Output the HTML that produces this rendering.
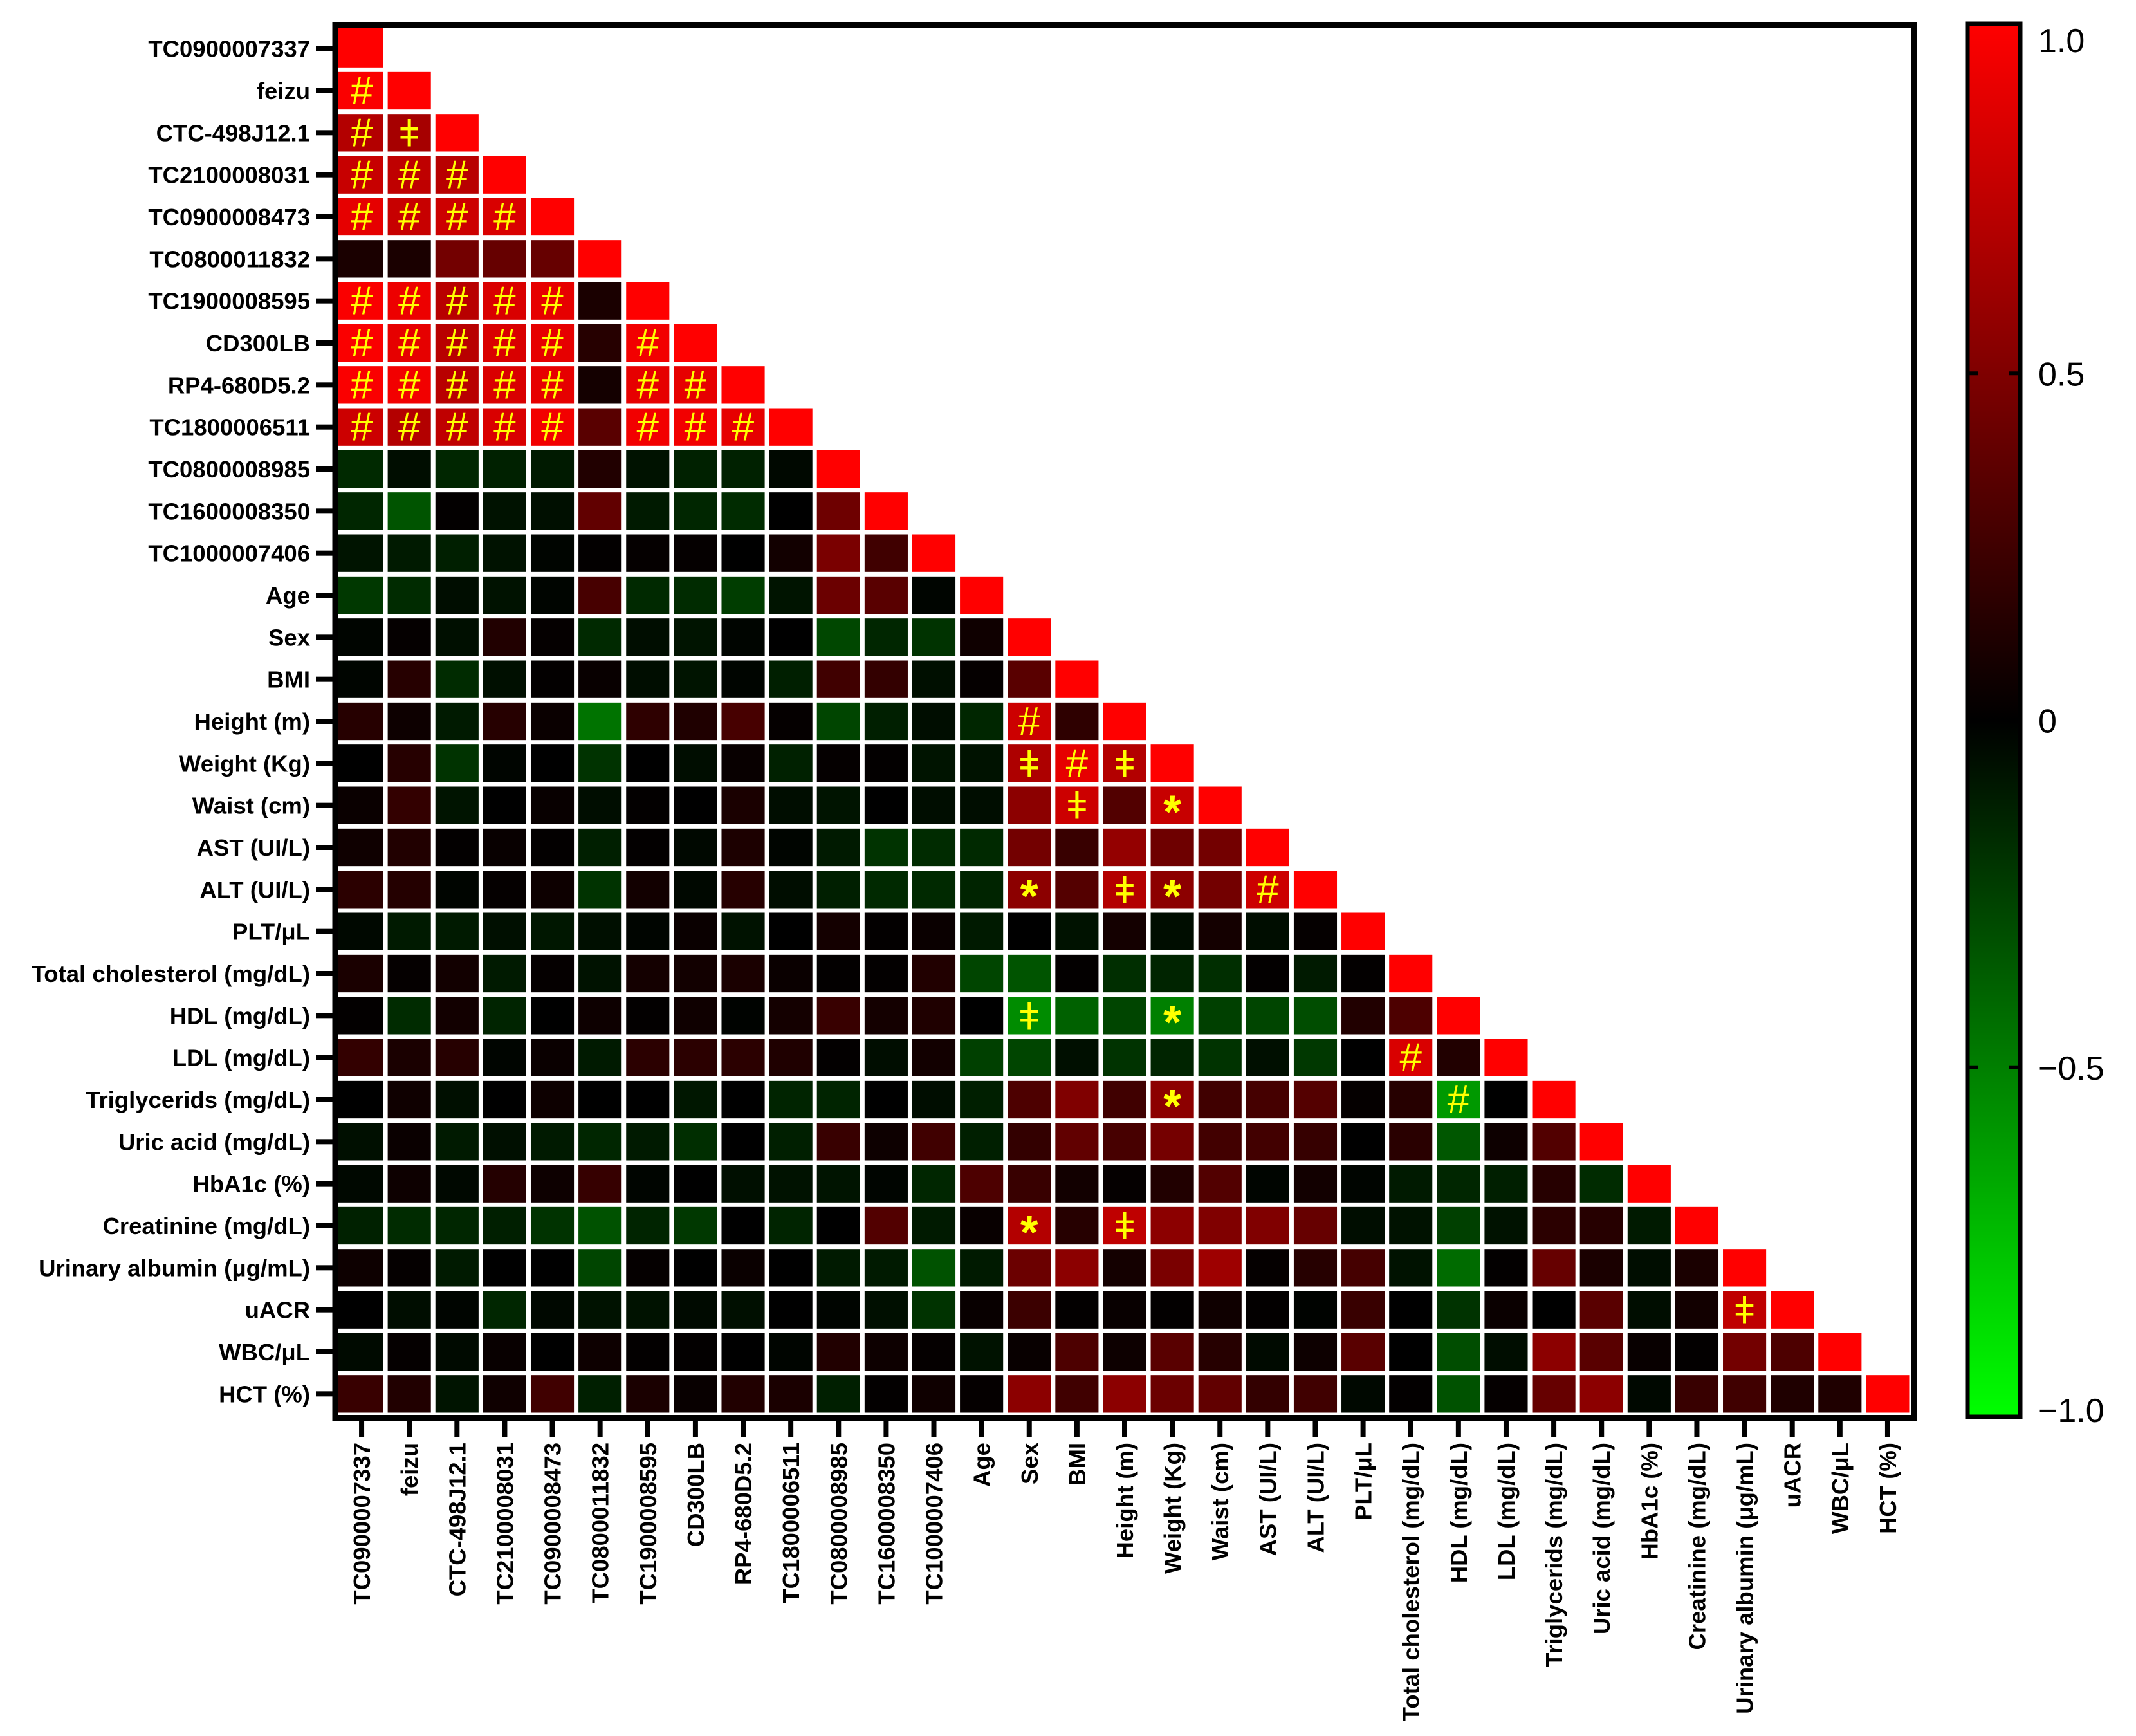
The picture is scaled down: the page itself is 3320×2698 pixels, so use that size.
<!DOCTYPE html>
<html><head><meta charset="utf-8"><style>
html,body{margin:0;padding:0;background:#fff}
svg{display:block}
text{font-family:"Liberation Sans",sans-serif}
</style></head><body>
<svg id="chart" xmlns="http://www.w3.org/2000/svg" width="3320" height="2698" viewBox="0 0 3320 2698">
<rect width="3320" height="2698" fill="#fff"/>
<g id="cells"></g>
<g id="marks"></g>
<rect x="521" y="38.5" width="2454.5" height="2165" fill="none" stroke="#000" stroke-width="9"/>
<g id="yaxis"></g>
<g id="xaxis"></g>
<g id="cbar">
<defs><linearGradient id="cg" x1="0" y1="0" x2="0" y2="1">
<stop offset="0" stop-color="#ff0000"/><stop offset="0.5" stop-color="#000000"/><stop offset="1" stop-color="#00ff00"/></linearGradient></defs>
<rect x="3058" y="37" width="82" height="2165" fill="url(#cg)" stroke="#000" stroke-width="7"/>
</g>
</svg>
<script>
const labels = ["TC0900007337","feizu","CTC-498J12.1","TC2100008031","TC0900008473","TC0800011832","TC1900008595","CD300LB","RP4-680D5.2","TC1800006511","TC0800008985","TC1600008350","TC1000007406","Age","Sex","BMI","Height (m)","Weight (Kg)","Waist (cm)","AST (UI/L)","ALT (UI/L)","PLT/μL","Total cholesterol (mg/dL)","HDL (mg/dL)","LDL (mg/dL)","Triglycerids (mg/dL)","Uric acid (mg/dL)","HbA1c (%)","Creatinine (mg/dL)","Urinary albumin (μg/mL)","uACR","WBC/μL","HCT (%)"];
const r0=[1];
const r1=[0.98,1];
const r2=[0.7,0.65,1];
const r3=[0.78,0.75,0.72,1];
const r4=[0.9,0.78,0.8,0.85,1];
const r5=[0.1,0.1,0.45,0.4,0.4,1];
const r6=[0.98,0.93,0.72,0.85,0.9,0.1,1];
const r7=[0.98,0.9,0.72,0.85,0.9,0.15,0.95,1];
const r8=[0.98,0.95,0.72,0.85,0.9,0.08,0.9,0.9,1];
const r9=[0.8,0.7,0.75,0.85,0.95,0.35,0.95,0.95,0.9,1];
const r10=[-0.16,-0.05,-0.15,-0.13,-0.1,0.13,-0.07,-0.13,-0.13,-0.03,1];
const r11=[-0.15,-0.33,0.01,-0.07,-0.06,0.38,-0.1,-0.15,-0.17,0,0.43,1];
const r12=[-0.08,-0.1,-0.12,-0.07,-0.02,0.01,0.02,0.02,0,0.07,0.48,0.25,1];
const r13=[-0.22,-0.17,-0.05,-0.07,-0.02,0.28,-0.16,-0.17,-0.24,-0.08,0.42,0.35,-0.02,1];
const r14=[-0.02,0.02,-0.06,0.13,0.02,-0.16,-0.05,-0.08,-0.02,0,-0.28,-0.15,-0.2,0.06,1];
const r15=[-0.02,0.15,-0.17,-0.06,0.01,0.03,-0.05,-0.08,-0.02,-0.12,0.25,0.2,-0.06,0.02,0.35,1];
const r16=[0.15,0.05,-0.1,0.15,0.04,-0.45,0.18,0.12,0.28,0.02,-0.27,-0.12,-0.05,-0.15,0.8,0.18,1];
const r17=[0,0.15,-0.2,-0.02,0,-0.2,0,-0.05,0.03,-0.13,0.02,0.01,-0.08,-0.07,0.68,0.9,0.7,1];
const r18=[0.04,0.2,-0.08,0,0.03,-0.05,0.01,0,0.1,-0.05,-0.08,0,-0.05,-0.05,0.55,0.8,0.32,0.78,1];
const r19=[0.06,0.13,0.01,0.03,0.01,-0.12,0.01,-0.03,0.11,-0.02,-0.1,-0.2,-0.17,-0.16,0.45,0.22,0.58,0.43,0.45,1];
const r20=[0.17,0.14,-0.02,0.02,0.05,-0.2,0.07,-0.03,0.15,-0.05,-0.12,-0.16,-0.16,-0.14,0.55,0.33,0.7,0.55,0.45,0.8,1];
const r21=[-0.03,-0.1,-0.1,-0.06,-0.09,-0.06,-0.02,0.04,-0.07,0,0.08,0.01,0.04,-0.1,0,-0.07,0.08,-0.05,0.08,-0.05,0.02,1];
const r22=[0.1,0.02,0.07,-0.1,0.02,-0.07,0.08,0.07,0.1,0.04,0.01,0.01,0.13,-0.27,-0.33,0.01,-0.18,-0.14,-0.18,0.01,-0.1,0.01,1];
const r23=[0.01,-0.17,0.07,-0.14,0,0.05,0.01,0.06,-0.01,0.08,0.22,0.08,0.12,0,-0.55,-0.38,-0.27,-0.5,-0.25,-0.27,-0.3,0.13,0.3,1];
const r24=[0.2,0.1,0.15,-0.02,0.04,-0.1,0.17,0.17,0.17,0.12,0.01,-0.05,0.07,-0.25,-0.27,-0.06,-0.2,-0.14,-0.2,-0.06,-0.22,0,0.85,0.13,1];
const r25=[0,0.06,-0.06,0,0.05,0,0,-0.09,0,-0.14,-0.14,0,-0.05,-0.12,0.3,0.5,0.25,0.55,0.25,0.27,0.33,0.02,0.15,-0.6,0,1];
const r26=[-0.06,0.04,-0.1,-0.06,-0.1,-0.15,-0.1,-0.18,0,-0.12,0.22,0.05,0.25,-0.12,0.2,0.38,0.28,0.46,0.26,0.26,0.21,0,0.16,-0.34,0.05,0.32,1];
const r27=[-0.03,0.05,-0.03,0.14,0.05,0.21,-0.02,0,-0.06,-0.07,-0.08,-0.02,-0.15,0.3,0.22,0.07,0.02,0.13,0.32,-0.02,0.07,-0.02,-0.1,-0.15,-0.12,0.15,-0.17,1];
const r28=[-0.13,-0.17,-0.15,-0.12,-0.2,-0.32,-0.14,-0.22,0,-0.14,0,0.32,-0.1,0.03,0.7,0.15,0.75,0.55,0.5,0.5,0.4,-0.05,-0.07,-0.25,-0.07,0.17,0.15,-0.1,1];
const r29=[0.05,0.02,-0.1,0,0,-0.27,0.02,0,0.04,0,-0.1,-0.1,-0.32,-0.1,0.42,0.55,0.08,0.48,0.62,0.02,0.15,0.27,-0.07,-0.42,0.01,0.4,0.1,-0.05,0.1,1];
const r30=[0,-0.05,-0.02,-0.15,-0.03,-0.07,-0.07,-0.04,-0.06,0,-0.02,-0.06,-0.2,0.03,0.23,0.01,0.03,0.01,0.06,0.01,-0.01,0.22,0,-0.2,0.04,0,0.35,-0.05,0.07,0.75,1];
const r31=[-0.04,0.02,-0.04,0.03,0,0.05,0.01,0.01,0,-0.02,0.13,0.05,0.02,-0.07,0.03,0.3,0.05,0.35,0.15,-0.04,0.05,0.35,0,-0.3,-0.05,0.55,0.35,0.03,0.01,0.45,0.3,1];
const r32=[0.22,0.13,-0.08,0.06,0.25,-0.12,0.1,0.03,0.13,0.1,-0.12,0.01,0.06,0.02,0.55,0.25,0.55,0.42,0.38,0.2,0.25,-0.03,0.01,-0.32,0.02,0.4,0.55,-0.03,0.22,0.25,0.12,0.12,1];
const rows=[r0,r1,r2,r3,r4,r5,r6,r7,r8,r9,r10,r11,r12,r13,r14,r15,r16,r17,r18,r19,r20,r21,r22,r23,r24,r25,r26,r27,r28,r29,r30,r31,r32];
const sigHash=[[1,0],[2,0],[3,0],[3,1],[3,2],[4,0],[4,1],[4,2],[4,3],[6,0],[6,1],[6,2],[6,3],[6,4],[7,0],[7,1],[7,2],[7,3],[7,4],[7,6],[8,0],[8,1],[8,2],[8,3],[8,4],[8,6],[8,7],[9,0],[9,1],[9,2],[9,3],[9,4],[9,6],[9,7],[9,8],[16,14],[17,15],[20,19],[24,22],[25,23]];
const sigDagger=[[2,1],[17,14],[17,16],[18,15],[20,16],[23,14],[28,16],[30,29]];
const sigStar=[[18,17],[20,14],[20,17],[23,17],[25,17],[28,14]];
const cbTicks=[1.0,0.5,0,-0.5,-1.0];
const cbTickLabels=["1.0","0.5","0","\u22120.5","\u22121.0"];

const NS="http://www.w3.org/2000/svg";
const X0=525,X1=2971,Y0=43,Y1=2199,N=labels.length;
const pw=(X1-X0)/N, ph=(Y1-Y0)/N, gap=7;
const xCol=j=>X0+j*pw, yRow=i=>Y0+i*ph;
const cx=j=>xCol(j)+pw/2, cy=i=>yRow(i)+ph/2;
function color(v){v=Math.max(-1,Math.min(1,v));const c=Math.round(Math.abs(v)*255);return v>=0?`rgb(${c},0,0)`:`rgb(0,${c},0)`;}
function mk(tag,attrs,parent){const e=document.createElementNS(NS,tag);for(const k in attrs)e.setAttribute(k,attrs[k]);parent.appendChild(e);return e;}
const cells=document.getElementById('cells');
for(let i=0;i<N;i++){for(let j=0;j<=i;j++){const v=rows[i][j]!==undefined?rows[i][j]:0;
 const r=mk('rect',{x:xCol(j)+(j===0?0:gap/2),y:yRow(i)+(i===0?0:gap/2),width:pw-gap/(j===0?2:1),height:ph-gap/(i===0?2:1),fill:color(v)},cells);
 
 }}
const marks=document.getElementById('marks');
function drawMarks(list,sym,size,weight,dy){for(const [i,j] of list){const t=mk('text',{x:cx(j),y:cy(i)+dy,'text-anchor':'middle','font-size':size,'font-weight':weight,fill:'#ffff00'},marks);t.textContent=sym;
 
 }}
drawMarks(sigHash,'#',62,'normal',21);
drawMarks(sigDagger,'\u01C2',58,'normal',21);
drawMarks(sigStar,'*',72,'bold',35);
const ya=document.getElementById('yaxis'), xa=document.getElementById('xaxis');
for(let i=0;i<N;i++){const y=cy(i);
 const tk=mk('rect',{x:491,y:y-4,width:28,height:8,fill:'#000'},ya);
 
 
 const t=mk('text',{x:482,y:y+13,'text-anchor':'end','font-size':36.5,'font-weight':'bold',fill:'#000'},ya);t.textContent=labels[i];
 
 }
for(let j=0;j<N;j++){const x=cx(j);
 const tk=mk('rect',{x:x-4,y:2204,width:8,height:29,fill:'#000'},xa);
 
 
 const t=mk('text',{x:0,y:0,'text-anchor':'end','font-size':36.5,'font-weight':'bold',fill:'#000',transform:`translate(${x+13},2242) rotate(-90)`},xa);t.textContent=labels[j];
 
 }
const cb=document.getElementById('cbar');
const cbTop=41,cbBot=2198,cbY=v=>cbTop+(1-v)/2*(cbBot-cbTop);
cbTicks.forEach((v,k)=>{const y=cbY(v);
 if(Math.abs(v)<1){const a=mk('rect',{x:3061,y:y-3,width:14,height:6,fill:'#000'},cb);
  
  
  const b=mk('rect',{x:3123,y:y-3,width:14,height:6,fill:'#000'},cb);
  
  }
 let ly=y+19; if(v===1)ly=y+40; if(v===-1)ly=y+12;
 const t=mk('text',{x:3168,y:ly,'font-size':52,fill:'#000'},cb);t.textContent=cbTickLabels[k];
 
 });
</script>
</body></html>
